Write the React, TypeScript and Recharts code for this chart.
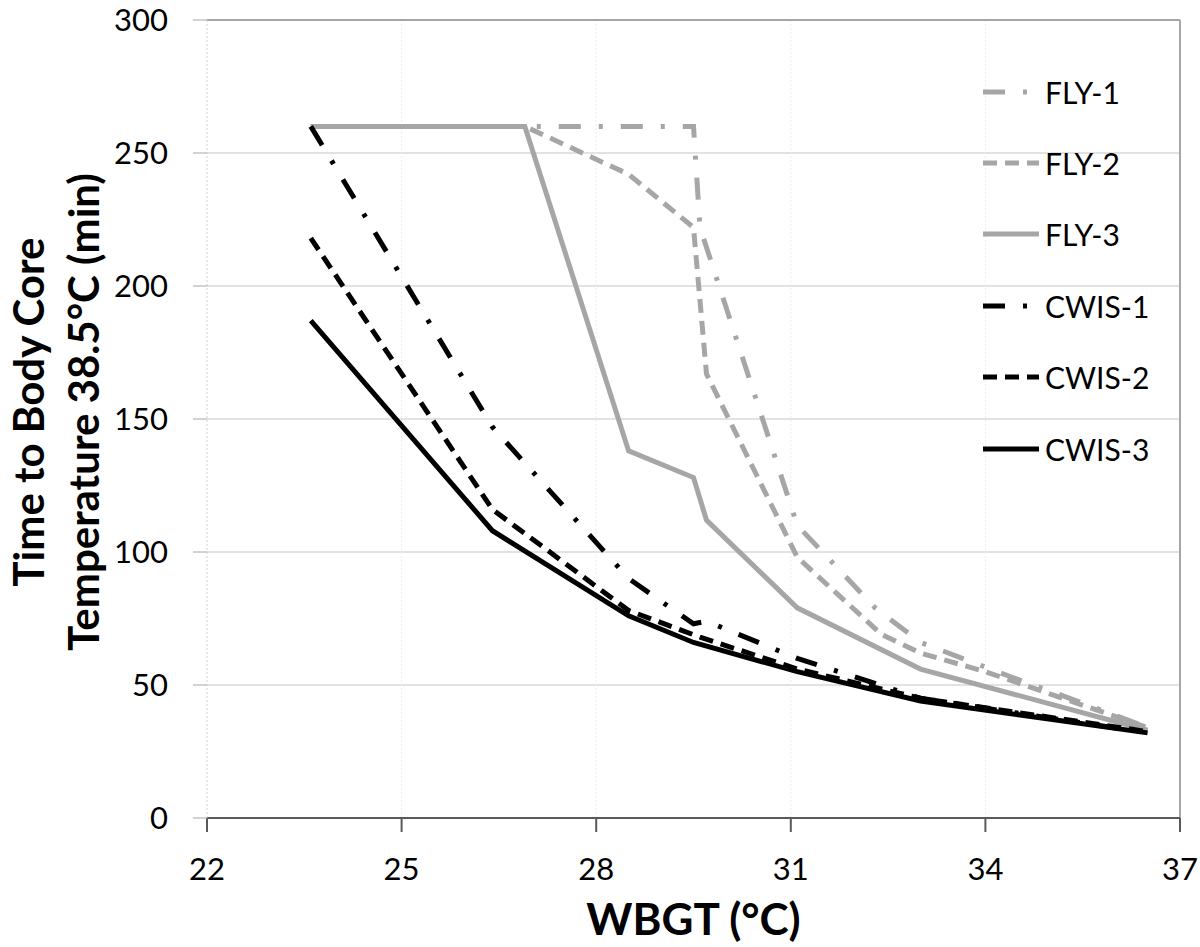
import {
  CartesianGrid,
  Legend,
  Line,
  LineChart,
  ReferenceLine,
  XAxis,
  YAxis,
} from 'recharts';

// WBGT (°C) and minutes to reach 38.5°C core temperature, per condition
const fly1X = [23.6, 26.9, 29.5, 29.6, 31.1, 32.3, 33, 34.4, 35.3, 36.5];
const fly1Y = [260, 260, 260, 222, 110, 79, 66, 53, 45, 34];

const fly2X = [23.6, 26.9, 28.5, 29.5, 29.7, 31.1, 32.4, 33, 34, 36.5];
const fly2Y = [260, 260, 242, 222, 167, 98, 69, 62, 55, 34];

const fly3X = [23.6, 26.9, 28.5, 29.5, 29.7, 31.1, 33, 36.5];
const fly3Y = [260, 260, 138, 128, 112, 79, 56, 33];

const cwis1X = [23.6, 26.4, 28.5, 29.5, 29.7, 31.1, 32.5, 33, 36.5];
const cwis1Y = [260, 147, 90, 73, 74, 60, 49, 45, 32];

const cwis2X = [23.6, 26.4, 28.5, 29.6, 31.1, 33, 36.5];
const cwis2Y = [218, 116, 78, 68, 56, 45, 32.5];

const cwis3X = [23.6, 26.4, 28.5, 29.5, 31.1, 33, 36.5];
const cwis3Y = [187, 108, 76, 66, 55, 44, 32];

const xTicks = [22, 25, 28, 31, 34, 37];
const yTicks = [0, 50, 100, 150, 200, 250, 300];

const FONT = 'Lato, "Open Sans", sans-serif';
const GRAY = '#a6a6a6';
const BLACK = '#000000';

const pts = (xs: number[], ys: number[]) => xs.map((x, i) => ({ x, y: ys[i] }));

const SERIES = [
  { name: 'FLY-1', data: pts(fly1X, fly1Y), color: GRAY, dash: '22 18 4 18' },
  { name: 'FLY-2', data: pts(fly2X, fly2Y), color: GRAY, dash: '14 8' },
  { name: 'FLY-3', data: pts(fly3X, fly3Y), color: GRAY, dash: undefined },
  { name: 'CWIS-1', data: pts(cwis1X, cwis1Y), color: BLACK, dash: '22 18 4 18' },
  { name: 'CWIS-2', data: pts(cwis2X, cwis2Y), color: BLACK, dash: '14 8' },
  { name: 'CWIS-3', data: pts(cwis3X, cwis3Y), color: BLACK, dash: undefined },
];

function YTitle() {
  return (
    <g fontFamily={FONT} fontWeight={700} fontSize={42} fill="#000">
      <text transform="translate(44,412) rotate(-90)" textAnchor="middle">
        Time to Body Core
      </text>
      <text transform="translate(99,412) rotate(-90)" textAnchor="middle">
        Temperature 38.5°C (min)
      </text>
    </g>
  );
}

function SeriesLegend() {
  return (
    <div style={{ fontFamily: FONT, fontSize: 30, color: '#000' }}>
      {SERIES.map((s) => (
        <div key={s.name} style={{ display: 'flex', alignItems: 'center', height: 71.4 }}>
          <svg width={56} height={10} style={{ marginRight: 6 }}>
            <line x1={0} y1={5} x2={56} y2={5} stroke={s.color} strokeWidth={5} strokeDasharray={s.dash} />
          </svg>
          <span>{s.name}</span>
        </div>
      ))}
    </div>
  );
}

export default function App() {
  return (
    <div style={{ position: 'absolute', left: 0, top: 0, background: '#fff' }}>
      <LineChart width={1200} height={947} margin={{ top: 20, right: 20, bottom: 0, left: 0 }}>
        <CartesianGrid stroke="#d9d9d9" strokeWidth={1.5} vertical={false} />
        <ReferenceLine x={25} stroke="#ececec" strokeDasharray="2 2" />
        <ReferenceLine x={28} stroke="#ececec" strokeDasharray="2 2" />
        <ReferenceLine x={31} stroke="#ececec" strokeDasharray="2 2" />
        <ReferenceLine x={34} stroke="#ececec" strokeDasharray="2 2" />
        <ReferenceLine x={37} stroke="#a6a6a6" strokeWidth={2} />
        <ReferenceLine y={300} stroke="#a6a6a6" strokeWidth={2} />
        <XAxis
          type="number"
          dataKey="x"
          domain={[22, 37]}
          ticks={xTicks}
          allowDuplicatedCategory={false}
          height={129}
          stroke="#595959"
          strokeWidth={2}
          tickSize={14}
          tickMargin={26}
          tick={{ fontFamily: FONT, fontSize: 31, fill: '#000' }}
          label={{
            value: 'WBGT (°C)',
            position: 'insideBottom',
            offset: 12,
            style: { fontFamily: FONT, fontSize: 44, fontWeight: 700, fill: '#000' },
          }}
        />
        <YAxis
          type="number"
          domain={[0, 300]}
          ticks={yTicks}
          width={207}
          stroke="#d0d0d0"
          strokeDasharray="2 2"
          tickLine={{ stroke: '#a6a6a6', strokeDasharray: '0' }}
          tickSize={14}
          tickMargin={25}
          tick={{ fontFamily: FONT, fontSize: 31, fill: '#000' }}
          label={{ content: () => <YTitle /> }}
        />
        <Legend
          layout="vertical"
          verticalAlign="middle"
          align="center"
          content={() => <SeriesLegend />}
          wrapperStyle={{ left: 983, top: 56, width: 200 }}
        />
        {SERIES.map((s) => (
          <Line
            key={s.name}
            data={s.data}
            dataKey="y"
            name={s.name}
            type="linear"
            stroke={s.color}
            strokeWidth={5}
            strokeDasharray={s.dash}
            dot={false}
            activeDot={false}
            isAnimationActive={false}
          />
        ))}
      </LineChart>
    </div>
  );
}
